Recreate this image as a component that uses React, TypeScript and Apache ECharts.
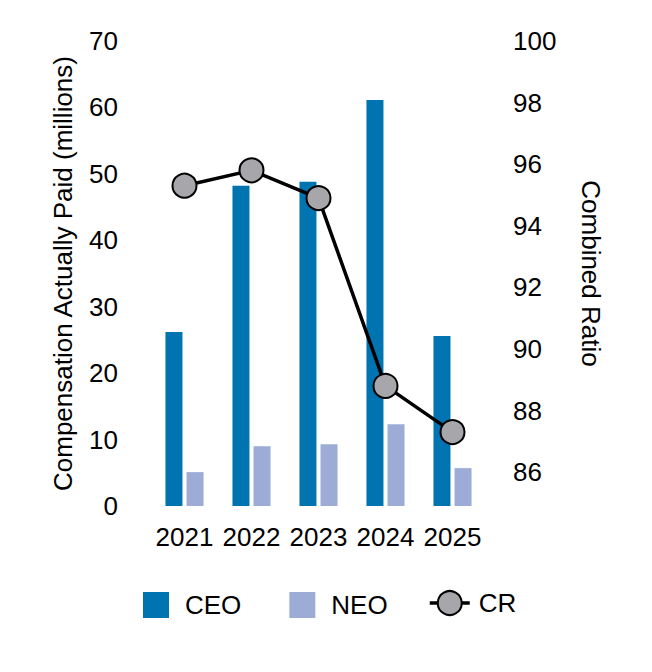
import React, { useEffect, useRef } from "react";
import * as echarts from "echarts";

const categories = ["2021", "2022", "2023", "2024", "2025"];
const ceoValues = [26.2, 48.2, 48.8, 61.1, 25.6];
const neoValues = [5.1, 9.0, 9.3, 12.3, 5.7];
const crValues = [95.3, 95.8, 94.9, 88.8, 87.3];
const leftTicks = [0, 10, 20, 30, 40, 50, 60, 70];
const rightTicks = [86, 88, 90, 92, 94, 96, 98, 100];

const FONT = "'Liberation Sans', Arial, sans-serif";

export default function App() {
  const ref = useRef<HTMLDivElement>(null);
  useEffect(() => {
    document.body.style.margin = "0";
    const chart = echarts.init(ref.current!, null, { renderer: "svg" });
    chart.setOption({
      animation: false,
      textStyle: { fontFamily: FONT },
      grid: { left: 151, right: 166, top: 41, bottom: 166 },
      legend: [
        {
          data: [
            { name: "CEO", icon: "rect" },
            { name: "NEO", icon: "rect" },
          ],
          left: 143,
          top: 592,
          padding: 0,
          itemWidth: 26,
          itemHeight: 26,
          itemGap: 48,
          textStyle: { fontSize: 26, color: "#000", fontFamily: FONT, padding: [0, 0, 0, 11] },
        },
        {
          data: ["CR"],
          left: 428,
          top: 590,
          padding: 0,
          itemWidth: 40,
          itemHeight: 30,
          lineStyle: { width: 3.5 },
          textStyle: { fontSize: 26, color: "#000", fontFamily: FONT, padding: [0, 0, 0, 4] },
        },
      ],
      xAxis: {
        type: "category",
        data: categories,
        axisLine: { show: false },
        axisTick: { show: false },
        axisLabel: { fontSize: 26, color: "#000", margin: 18, fontFamily: FONT, interval: 0 },
      },
      yAxis: [
        {
          type: "value",
          min: 0,
          max: 70,
          interval: 10,
          name: "Compensation Actually Paid (millions)",
          nameLocation: "middle",
          nameRotate: 90,
          nameGap: 75,
          nameTextStyle: { fontSize: 26, color: "#000", fontFamily: FONT },
          axisLine: { show: false },
          axisTick: { show: false },
          splitLine: { show: false },
          axisLabel: {
            fontSize: 26,
            color: "#000",
            margin: 33,
            fontFamily: FONT,
            customValues: leftTicks,
          },
        },
        {
          type: "value",
          min: 84.9,
          max: 100,
          name: "Combined Ratio",
          nameLocation: "middle",
          nameRotate: -90,
          nameGap: 92,
          nameTextStyle: { fontSize: 26, color: "#000", fontFamily: FONT },
          axisLine: { show: false },
          axisTick: { show: false },
          splitLine: { show: false },
          axisLabel: {
            fontSize: 26,
            color: "#000",
            margin: 27,
            fontFamily: FONT,
            customValues: rightTicks,
          },
        },
      ],
      series: [
        {
          name: "CEO",
          type: "bar",
          data: ceoValues,
          barWidth: 17,
          barGap: "24%",
          itemStyle: { color: "#0073b1" },
        },
        {
          name: "NEO",
          type: "bar",
          data: neoValues,
          barWidth: 17,
          itemStyle: { color: "#9dacd7" },
        },
        {
          name: "CR",
          type: "line",
          yAxisIndex: 1,
          data: crValues,
          symbol: "circle",
          symbolSize: 24,
          z: 5,
          lineStyle: { color: "#000", width: 3.5 },
          itemStyle: { color: "#a7a7ab", borderColor: "#000", borderWidth: 2 },
        },
      ],
    });
    return () => chart.dispose();
  }, []);
  return (
    <div
      ref={ref}
      style={{ position: "fixed", left: 0, top: 0, width: 652, height: 672, background: "#fff" }}
    />
  );
}
